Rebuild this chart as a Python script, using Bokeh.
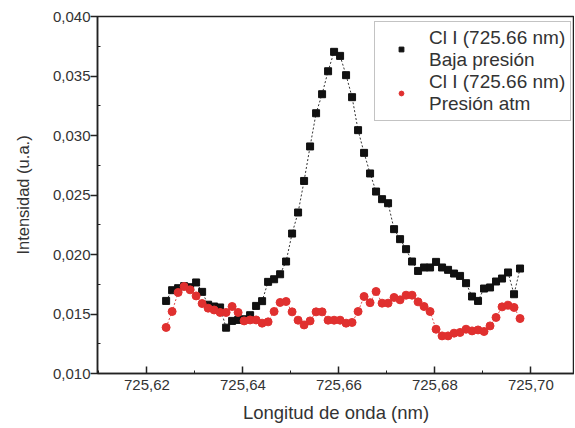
from bokeh.plotting import figure
from bokeh.models import FixedTicker, CustomJSTickFormatter, Legend, LegendItem, Range1d
from bokeh.embed import file_html
from bokeh.resources import INLINE

wavelength = [725.62400, 725.62525, 725.62650, 725.62775, 725.62900, 725.63025, 725.63150, 725.63275,
              725.63400, 725.63525, 725.63650, 725.63775, 725.63900, 725.64025, 725.64150, 725.64275,
              725.64400, 725.64525, 725.64650, 725.64775, 725.64900, 725.65025, 725.65150, 725.65275,
              725.65400, 725.65525, 725.65650, 725.65775, 725.65900, 725.66025, 725.66150, 725.66275,
              725.66400, 725.66525, 725.66650, 725.66775, 725.66900, 725.67025, 725.67150, 725.67275,
              725.67400, 725.67525, 725.67650, 725.67775, 725.67900, 725.68025, 725.68150, 725.68275,
              725.68400, 725.68525, 725.68650, 725.68775, 725.68900, 725.69025, 725.69150, 725.69275,
              725.69400, 725.69525, 725.69650, 725.69775]

baja_presion = [0.01610, 0.01700, 0.01717, 0.01734, 0.01725, 0.01765, 0.01686, 0.01578,
                0.01563, 0.01555, 0.01385, 0.01442, 0.01450, 0.01456, 0.01490, 0.01568,
                0.01608, 0.01770, 0.01792, 0.01834, 0.01941, 0.02176, 0.02353, 0.02618,
                0.02908, 0.03187, 0.03347, 0.03540, 0.03703, 0.03669, 0.03507, 0.03322,
                0.03045, 0.02854, 0.02681, 0.02529, 0.02465, 0.02431, 0.02213, 0.02129,
                0.02045, 0.01941, 0.01862, 0.01891, 0.01891, 0.01938, 0.01891, 0.01871,
                0.01840, 0.01820, 0.01759, 0.01647, 0.01610, 0.01714, 0.01723, 0.01773,
                0.01798, 0.01849, 0.01666, 0.01882]

presion_atm = [0.01387, 0.01521, 0.01681, 0.01731, 0.01703, 0.01652, 0.01588, 0.01549,
               0.01534, 0.01513, 0.01513, 0.01563, 0.01513, 0.01442, 0.01450, 0.01450,
               0.01423, 0.01434, 0.01521, 0.01597, 0.01605, 0.01518, 0.01448, 0.01408,
               0.01442, 0.01518, 0.01518, 0.01448, 0.01448, 0.01448, 0.01423, 0.01429,
               0.01521, 0.01647, 0.01595, 0.01689, 0.01591, 0.01591, 0.01639, 0.01619,
               0.01658, 0.01658, 0.01602, 0.01563, 0.01521, 0.01372, 0.01316, 0.01316,
               0.01339, 0.01345, 0.01372, 0.01358, 0.01366, 0.01353, 0.01400, 0.01471,
               0.01560, 0.01574, 0.01555, 0.01462]

x_ticks = [725.62, 725.64, 725.66, 725.68, 725.70]
x_minor = [725.61, 725.63, 725.65, 725.67, 725.69, 725.71]
y_ticks = [0.010, 0.015, 0.020, 0.025, 0.030, 0.035, 0.040]
y_minor = [0.0125, 0.0175, 0.0225, 0.0275, 0.0325, 0.0375]

label_baja = "Cl I (725.66 nm)\nBaja presión"
label_atm = "Cl I (725.66 nm)\nPresión atm"

FONT = "Liberation Sans"

p = figure(width=574, height=427, output_backend="svg", toolbar_location=None,
           x_range=Range1d(725.6097, 725.7091), y_range=Range1d(0.010, 0.040),
           min_border_left=97, min_border_top=16, min_border_bottom=54, min_border_right=0)
p.background_fill_color = "white"
p.border_fill_color = "white"
p.outline_line_color = "#222222"
p.outline_line_width = 1.5
p.xgrid.visible = False
p.ygrid.visible = False

r1l = p.line(wavelength, baja_presion, line_color="#333333", line_width=1, line_dash="2 2")
r1 = p.scatter(wavelength, baja_presion, marker="square", size=7, fill_color="#111111", line_color="#111111")
r2l = p.line(wavelength, presion_atm, line_color="#e04a4a", line_width=1, line_dash="2 2")
r2 = p.scatter(wavelength, presion_atm, marker="circle", size=8, fill_color="#e0302f", line_color="#e0302f")

xa = p.xaxis[0]
xa.ticker = FixedTicker(ticks=x_ticks, minor_ticks=x_minor)
xa.formatter = CustomJSTickFormatter(code="return tick.toFixed(2).replace('.', ',');")
xa.major_tick_in = 7
xa.major_tick_out = 0
xa.minor_tick_in = 3
xa.minor_tick_out = 0
xa.axis_label = "Longitud de onda (nm)"

ya = p.yaxis[0]
ya.ticker = FixedTicker(ticks=y_ticks, minor_ticks=y_minor)
ya.formatter = CustomJSTickFormatter(code="return tick.toFixed(3).replace('.', ',');")
ya.major_tick_in = 0
ya.major_tick_out = 7
ya.minor_tick_in = 3
ya.minor_tick_out = 0
ya.axis_label = "Intensidad (u.a.)"

for ax in (xa, ya):
    ax.axis_line_color = "#222222"
    ax.axis_line_width = 1.5
    ax.major_tick_line_color = "#222222"
    ax.major_tick_line_width = 1.5
    ax.minor_tick_line_color = "#222222"
    ax.minor_tick_line_width = 1
    ax.major_label_text_font = FONT
    ax.major_label_text_font_size = "15px"
    ax.major_label_text_color = "#333333"
    ax.axis_label_text_font = FONT
    ax.axis_label_text_font_style = "normal"
    ax.axis_label_text_color = "#333333"

xa.major_label_standoff = 6
xa.axis_label_text_font_size = "18.5px"
xa.axis_label_standoff = 9
ya.major_label_standoff = 0
ya.axis_label_text_font_size = "16.5px"
ya.axis_label_standoff = 18

legend = Legend(items=[LegendItem(label=label_baja, renderers=[r1]),
                       LegendItem(label=label_atm, renderers=[r2])],
                location=(277, 252))
legend.label_text_font = FONT
legend.label_text_font_size = "19px"
legend.label_text_color = "#333333"
legend.label_text_line_height = 1.15
legend.border_line_color = "#888888"
legend.border_line_width = 1.5
legend.background_fill_color = "white"
legend.background_fill_alpha = 1
legend.padding = 5
legend.spacing = 0
legend.margin = 0
legend.glyph_width = 42
legend.glyph_height = 12
legend.label_standoff = 7
p.add_layout(legend)

open("out.html", "w").write(file_html(p, INLINE))
